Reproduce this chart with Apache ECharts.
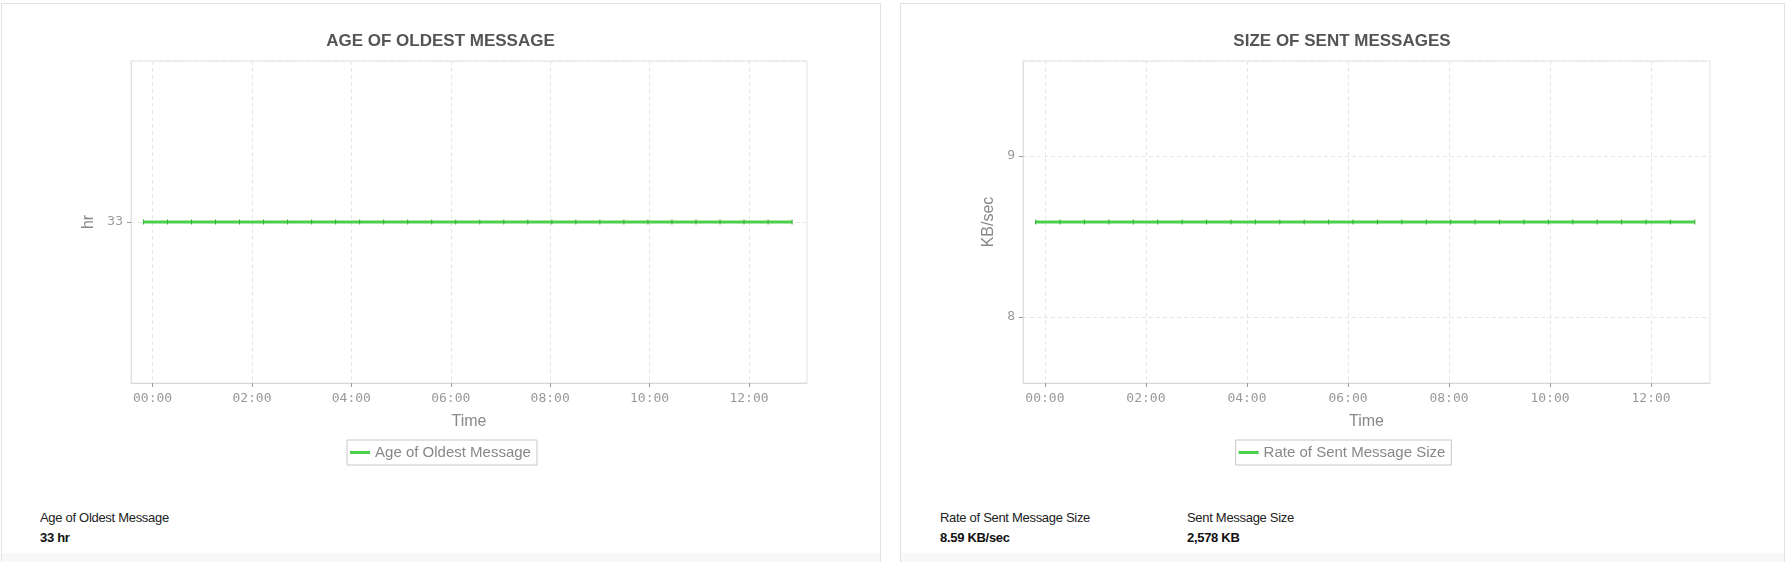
<!DOCTYPE html>
<html>
<head>
<meta charset="utf-8">
<script src="https://cdn.jsdelivr.net/npm/echarts@6/dist/echarts.min.js"></script>
<style>
  html, body { margin: 0; padding: 0; background: #fff; width: 1785px; height: 562px; overflow: hidden; font-family: 'Liberation Sans', Arial, sans-serif; }
  .panel { position: absolute; top: 3px; height: 600px; border: 1px solid #e2e2e2; box-sizing: border-box; background: #fff; }
  .band { position: absolute; left: 0; right: 0; top: 549px; height: 60px; background: #f8f8f8; }
  .chart { position: absolute; top: 0; height: 490px; }
  .stat { position: absolute; font-size: 13px; letter-spacing: -0.3px; color: #222; line-height: 15px; }
  .stat b { display: block; margin-top: 5px; color: #111; }
</style>
</head>
<body>
<div class="panel" style="left:1px;width:880px;"><div class="band"></div></div>
<div class="panel" style="left:900px;width:885px;"><div class="band"></div></div>
<div id="c1" class="chart" style="left:0px;width:881px;"></div>
<div id="c2" class="chart" style="left:900px;width:884px;"></div>

<div class="stat" id="s1" style="left:40px;top:510px;"></div>
<div class="stat" id="s2" style="left:940px;top:510px;"></div>
<div class="stat" id="s3" style="left:1187px;top:510px;"></div>

<script>
// ---- data ----
// sample times (the first one is on the previous day, shown as -00:11)
const sampleTimes = [
  '-00:11', '00:18', '00:47', '01:16', '01:45', '02:14', '02:43', '03:12',
  '03:41', '04:10', '04:39', '05:08', '05:37', '06:06', '06:35', '07:04',
  '07:33', '08:02', '08:31', '09:00', '09:29', '09:58', '10:27', '10:56',
  '11:25', '11:54', '12:23', '12:52'
];
const ageOfOldestMessage = [
  33, 33, 33, 33, 33, 33, 33, 33, 33, 33, 33, 33, 33, 33,
  33, 33, 33, 33, 33, 33, 33, 33, 33, 33, 33, 33, 33, 33
];
const rateOfSentMessageSize = [
  8.59, 8.59, 8.59, 8.59, 8.59, 8.59, 8.59, 8.59, 8.59, 8.59, 8.59, 8.59, 8.59, 8.59,
  8.59, 8.59, 8.59, 8.59, 8.59, 8.59, 8.59, 8.59, 8.59, 8.59, 8.59, 8.59, 8.59, 8.59
];
const xTickLabels = ['00:00', '02:00', '04:00', '06:00', '08:00', '10:00', '12:00'];
const xAxisMin = '-00:26';
const xAxisMax = '13:10';
const chartTitles = ['AGE OF OLDEST MESSAGE', 'SIZE OF SENT MESSAGES'];
const seriesNames = ['Age of Oldest Message', 'Rate of Sent Message Size'];
const yAxisNames = ['hr', 'KB/sec'];
const statLabels = ['Age of Oldest Message', 'Rate of Sent Message Size', 'Sent Message Size'];
const statValues = ['33 hr', '8.59 KB/sec', '2,578 KB'];

// ---- stats text ----
['s1', 's2', 's3'].forEach(function (id, i) {
  const el = document.getElementById(id);
  el.appendChild(document.createTextNode(statLabels[i]));
  const b = document.createElement('b');
  b.textContent = statValues[i];
  el.appendChild(b);
});

// "HH:mm" -> minutes since 00:00
function toMin(s) {
  const neg = s.charAt(0) === '-';
  const p = s.replace('-', '').split(':');
  const m = parseInt(p[0], 10) * 60 + parseInt(p[1], 10);
  return neg ? -m : m;
}
function pad(n) { return (n < 10 ? '0' : '') + n; }
function fmtMin(v) {
  let m = ((Math.round(v) % 1440) + 1440) % 1440;
  return pad(Math.floor(m / 60)) + ':' + pad(m % 60);
}

const GREEN = '#4ccf4c';
const tickValues = xTickLabels.map(toMin);

function buildOption(idx, values, gridLeft, yMin, yMax, ySplit, nameGap) {
  return {
    animation: false,
    title: {
      text: chartTitles[idx],
      left: 'center',
      top: 33,
      padding: 0,
      textStyle: { fontFamily: 'Liberation Sans', fontSize: 17, fontWeight: 'bold', color: '#555' }
    },
    legend: {
      top: 440,
      left: 'center',
      padding: [5, 6, 5, 3],
      borderColor: '#c8c8c8',
      borderWidth: 1,
      itemWidth: 20,
      itemHeight: 3,
      icon: 'rect',
      itemStyle: { color: GREEN },
      textStyle: { fontFamily: 'Liberation Sans', fontSize: 15, color: '#888' },
      data: [seriesNames[idx]]
    },
    grid: {
      left: gridLeft, right: 74, top: 61, height: 322,
      show: true, borderColor: '#e3e3e3', borderWidth: 1, containLabel: false
    },
    xAxis: {
      type: 'value',
      min: toMin(xAxisMin),
      max: toMin(xAxisMax),
      name: 'Time',
      nameLocation: 'middle',
      nameGap: 31,
      nameTextStyle: { fontFamily: 'Liberation Sans', fontSize: 16, color: '#888' },
      axisLine: { show: true, onZero: false, lineStyle: { color: '#d8d8d8' } },
      axisTick: { show: true, length: 4, lineStyle: { color: '#999' }, customValues: tickValues },
      axisLabel: {
        customValues: tickValues,
        formatter: fmtMin,
        fontFamily: 'DejaVu Sans Mono', fontSize: 13, color: '#999', margin: 9
      },
      splitLine: { show: true, lineStyle: { color: '#e6e6e6', type: [4, 3] } }
    },
    yAxis: {
      type: 'value',
      min: yMin,
      max: yMax,
      splitNumber: ySplit,
      name: yAxisNames[idx],
      nameLocation: 'middle',
      nameGap: nameGap,
      nameTextStyle: { fontFamily: 'Liberation Sans', fontSize: 16, color: '#888' },
      axisLine: { show: true, onZero: false, lineStyle: { color: '#e0e0e0' } },
      axisTick: { show: true, length: 4, lineStyle: { color: '#999' } },
      axisLabel: {
        showMinLabel: false, showMaxLabel: false,
        fontFamily: 'DejaVu Sans Mono', fontSize: 13, color: '#999', margin: 8
      },
      splitLine: { show: true, lineStyle: { color: '#e6e6e6', type: [4, 3] } }
    },
    series: [{
      name: seriesNames[idx],
      type: 'line',
      data: sampleTimes.map(function (t, i) { return [toMin(t), values[i]]; }),
      symbol: 'rect',
      symbolSize: [1, 5],
      showSymbol: true,
      itemStyle: { color: '#33b033' },
      lineStyle: { color: GREEN, width: 3 },
      emphasis: { disabled: true },
      z: 3
    }]
  };
}

const chart1 = echarts.init(document.getElementById('c1'), null, { renderer: 'canvas' });
chart1.setOption(buildOption(0, ageOfOldestMessage, 131, 32, 34, 2, 32));

const chart2 = echarts.init(document.getElementById('c2'), null, { renderer: 'canvas' });
chart2.setOption(buildOption(1, rateOfSentMessageSize, 123, 7.59, 9.59, 2, 23));
</script>
</body>
</html>
